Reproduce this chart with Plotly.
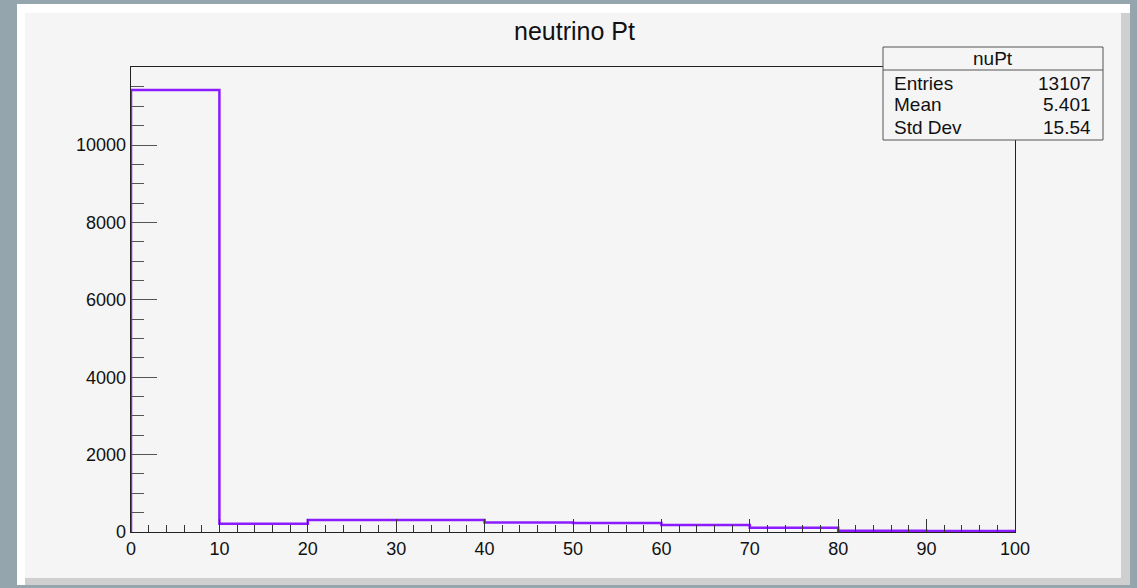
import plotly.graph_objects as go

# ---- data ----
bin_edges = [0, 10, 20, 30, 40, 50, 60, 70, 80, 90, 100]
counts = [11420, 214, 310, 310, 245, 235, 181, 110, 30, 25]
title_text = "neutrino Pt"
stats_name = "nuPt"
stats_labels = ["Entries", "Mean", "Std Dev"]
stats_values = ["13107", "5.401", "15.54"]
x_ticks = [0, 10, 20, 30, 40, 50, 60, 70, 80, 90, 100]
y_ticks = [0, 2000, 4000, 6000, 8000, 10000]
y_ticktext = ["0", "2000", "4000", "6000", "8000", "10000"]

# ---- geometry (pixels) ----
W, H = 1137, 588
L, R, T, B = 131, 1015, 67, 532
FONT = "Liberation Sans, Arial, Helvetica, sans-serif"
BG = "#95a5ad"

def px(x):
    return (x - L) / (R - L)

def py(y):
    return (B - y) / (B - T)

# histogram outline
xs = [bin_edges[0]] + bin_edges[:-1] + [bin_edges[-1], bin_edges[-1]]
ys = [0] + counts + [counts[-1], 0]

fig = go.Figure()
fig.add_trace(go.Scatter(x=xs, y=ys, mode="lines", line=dict(color="#8c1cff", width=2.5, shape="hv"),
                         hoverinfo="skip", showlegend=False))

shapes = []
# canvas panel with bevel
shapes.append(dict(type="rect", xref="paper", yref="paper", x0=px(17), x1=px(1130), y0=py(585), y1=py(4),
                   fillcolor="#ffffff", line=dict(width=0), layer="below"))
shapes.append(dict(type="rect", xref="paper", yref="paper", x0=px(25), x1=px(1130), y0=py(585), y1=py(13),
                   fillcolor="#cfcfcf", line=dict(width=0), layer="below"))
shapes.append(dict(type="rect", xref="paper", yref="paper", x0=px(25), x1=px(1121), y0=py(578), y1=py(13),
                   fillcolor="#f5f5f5", line=dict(width=0), layer="below"))
# stats box
bx0, bx1, by0, by1, bdiv = 883, 1103, 47, 140, 70
shapes.append(dict(type="rect", xref="paper", yref="paper", x0=px(bx0), x1=px(bx1), y0=py(by1), y1=py(by0),
                   fillcolor="#f5f5f5", line=dict(color="#555555", width=1), layer="above"))
shapes.append(dict(type="line", xref="paper", yref="paper", x0=px(bx0), x1=px(bx1), y0=py(bdiv), y1=py(bdiv),
                   line=dict(color="#555555", width=1), layer="above"))

annotations = []
annotations.append(dict(text=title_text, xref="paper", yref="paper", x=px(574), y=py(31),
                        showarrow=False, xanchor="center", yanchor="middle",
                        font=dict(family=FONT, size=25, color="#111111")))
annotations.append(dict(text=stats_name, xref="paper", yref="paper", x=px((bx0 + bx1) / 2), y=py(58.5),
                        showarrow=False, xanchor="center", yanchor="middle",
                        font=dict(family=FONT, size=19, color="#111111")))
row_y = [83, 105, 127]
for lab, val, ry in zip(stats_labels, stats_values, row_y):
    annotations.append(dict(text=lab, xref="paper", yref="paper", x=px(892), y=py(ry),
                            showarrow=False, xanchor="left", yanchor="middle",
                            font=dict(family=FONT, size=19, color="#111111")))
    annotations.append(dict(text=val, xref="paper", yref="paper", x=px(1093), y=py(ry),
                            showarrow=False, xanchor="right", yanchor="middle",
                            font=dict(family=FONT, size=19, color="#111111")))

fig.update_layout(
    width=W, height=H,
    margin=dict(l=L, r=W - R, t=T, b=H - B, pad=0),
    paper_bgcolor=BG,
    plot_bgcolor="rgba(0,0,0,0)",
    shapes=shapes,
    annotations=annotations,
    showlegend=False,
    hovermode=False,
    xaxis=dict(range=[0, 100], tickvals=x_ticks, ticks="inside", ticklen=13, tickcolor="#333333",
               showgrid=False, zeroline=False, showline=True, mirror=True, linecolor="#222222", linewidth=1.3,
               tickfont=dict(family=FONT, size=18, color="#111111"),
               minor=dict(dtick=2, ticks="inside", ticklen=7, tickcolor="#333333", showgrid=False)),
    yaxis=dict(range=[0, 12016], tickvals=y_ticks, ticktext=y_ticktext, ticks="inside", ticklen=26,
               tickcolor="#555555",
               showgrid=False, zeroline=False, showline=True, mirror=True, linecolor="#222222", linewidth=1.3,
               tickfont=dict(family=FONT, size=18, color="#111111"),
               minor=dict(dtick=500, ticks="inside", ticklen=13, tickcolor="#555555", showgrid=False)),
)

fig.write_html("out.html",
               config={"displayModeBar": False, "staticPlot": True},
               post_script="document.body.style.margin='0';document.body.style.overflow='hidden';"
                           "document.body.style.background='" + BG + "';")
